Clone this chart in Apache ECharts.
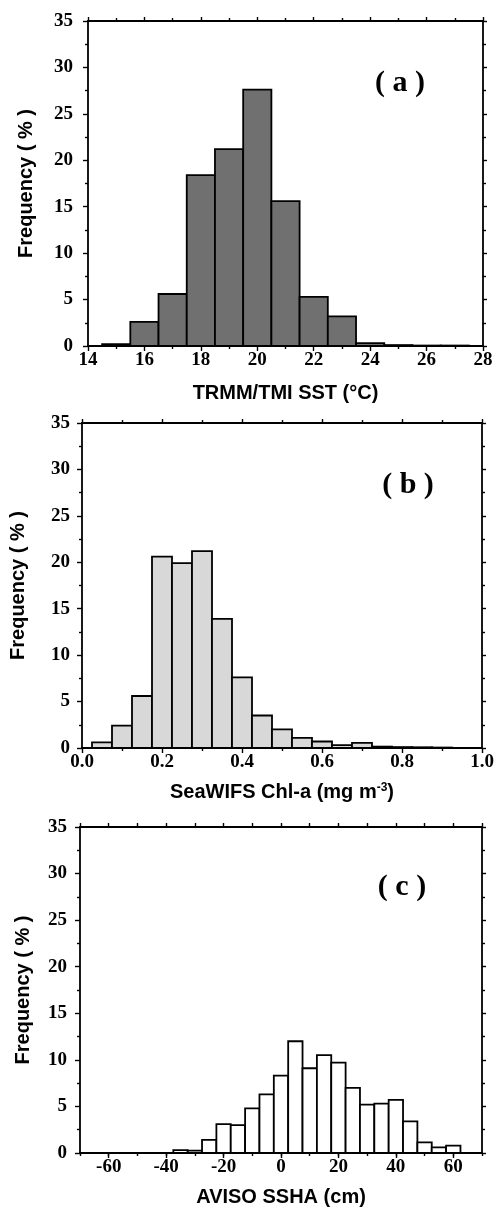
<!DOCTYPE html>
<html><head><meta charset="utf-8">
<script src="https://cdn.jsdelivr.net/npm/echarts@6/dist/echarts.min.js"></script>
<style>html,body{margin:0;padding:0;background:#fff}#c{width:494px;height:1219px}</style>
</head><body><div id="c"></div>
<script>
// ---- Data ----
const sstCenters = [15,16,17,18,19,20,21,22,23,24,25,26,27];
const sstFreq    = [0.2,2.6,5.6,18.4,21.2,27.6,15.6,5.3,3.2,0.3,0.1,0.05,0.05];
const sstBinWidth = 1;
const sstTicks = [14,16,18,20,22,24,26,28];

const chlCenters = [0.05,0.10,0.15,0.20,0.25,0.30,0.35,0.40,0.45,0.50,0.55,0.60,0.65,0.70,0.75,0.80,0.85,0.90];
const chlFreq    = [0.6,2.4,5.6,20.6,19.9,21.2,13.9,7.6,3.5,2.0,1.1,0.7,0.3,0.55,0.15,0.1,0.08,0.05];
const chlBinWidth = 0.05;
const chlTicks = [0.0,0.2,0.4,0.6,0.8,1.0];

const sshaCenters = [-35,-30,-25,-20,-15,-10,-5,0,5,10,15,20,25,30,35,40,45,50,55,60];
const sshaFreq    = [0.3,0.25,1.4,3.1,3.0,4.8,6.3,8.3,12.0,9.1,10.5,9.7,7.0,5.2,5.3,5.7,3.4,1.15,0.6,0.8];
const sshaBinWidth = 5;
const sshaTicks = [-60,-40,-20,0,20,40,60];
const sshaRange = [-70,70];

const freqTicks = [0,5,10,15,20,25,30,35];

const panelLabels = ['( a )','( b )','( c )'];
const xTitles = ['TRMM/TMI SST (°C)', 'SeaWIFS Chl-a (mg m{sup|-3})', 'AVISO SSHA (cm)'];
const yTitle = 'Frequency ( % )';

// ---- Styles ----
const SERIF = '"Liberation Serif","DejaVu Serif",serif';
const SANS = '"Liberation Sans",Arial,sans-serif';
const LINE = {color:'#000', width:1.8};
const TICK = {color:'#000', width:1.4};
const labelStyle = {color:'#000', fontFamily:SERIF, fontSize:19, fontWeight:'bold'};
const nameStyle = {color:'#000', fontFamily:SANS, fontSize:20, fontWeight:'bold',
  rich:{sup:{fontFamily:SANS, fontSize:12, fontWeight:'bold', color:'#000', verticalAlign:'top', padding:[0,0,9,0]}}};

const grids = [
  {left:88, right:11, top:21, height:325},
  {left:82, right:12, top:423, height:325},
  {left:80, right:12, top:827, height:326}
];

function xMain(g, ticks, name, gap, fmt) {
  return {gridIndex:g, type:'value', position:'bottom', min:ticks[0], max:ticks[ticks.length-1],
    interval:ticks[1]-ticks[0],
    axisLine:{onZero:false, lineStyle:LINE},
    axisTick:{show:true, inside:false, length:5, lineStyle:TICK},
    minorTick:{show:true, splitNumber:2, length:3, lineStyle:TICK},
    axisLabel:Object.assign({margin:5, formatter:fmt}, labelStyle),
    splitLine:{show:false}, minorSplitLine:{show:false},
    name:name, nameLocation:'middle', nameGap:gap, nameTextStyle:nameStyle};
}
function xTop(g, ticks) {
  return {gridIndex:g, type:'value', position:'top', min:ticks[0], max:ticks[ticks.length-1],
    interval:ticks[1]-ticks[0],
    axisLine:{onZero:false, lineStyle:LINE},
    axisTick:{show:true, inside:false, length:4, lineStyle:TICK},
    minorTick:{show:true, splitNumber:2, length:3, lineStyle:TICK},
    axisLabel:{show:false}, splitLine:{show:false}};
}
function yLeft(g, gap, margin) {
  return {gridIndex:g, type:'value', position:'left', min:freqTicks[0], max:freqTicks[freqTicks.length-1],
    interval:freqTicks[1]-freqTicks[0],
    axisLine:{onZero:false, lineStyle:LINE},
    axisTick:{show:true, inside:false, length:5, lineStyle:TICK},
    minorTick:{show:true, splitNumber:2, length:3, lineStyle:TICK},
    axisLabel:Object.assign({margin:margin}, labelStyle),
    splitLine:{show:false}, minorSplitLine:{show:false},
    name:yTitle, nameLocation:'middle', nameGap:gap, nameTextStyle:nameStyle};
}
function yRight(g) {
  return {gridIndex:g, type:'value', position:'right', min:freqTicks[0], max:freqTicks[freqTicks.length-1],
    interval:freqTicks[1]-freqTicks[0],
    axisLine:{onZero:false, lineStyle:LINE},
    axisTick:{show:true, inside:false, length:4, lineStyle:TICK},
    minorTick:{show:true, splitNumber:2, length:3, lineStyle:TICK},
    axisLabel:{show:false}, splitLine:{show:false}};
}

function histSeries(xi, yi, centers, freqs, width, fill) {
  return {type:'custom', xAxisIndex:xi, yAxisIndex:yi, silent:true, z:3,
    data: centers.map((c,i)=>[c, freqs[i]]),
    renderItem: function(params, api) {
      const c = api.value(0), v = api.value(1);
      const p0 = api.coord([c - width/2, v]);
      const p1 = api.coord([c + width/2, 0]);
      return {type:'rect', shape:{x:p0[0], y:p0[1], width:p1[0]-p0[0], height:p1[1]-p0[1]},
        style:{fill:fill, stroke:'#000', lineWidth:1.8}};
    }};
}

const sshaAxisMain = {gridIndex:2, type:'value', position:'bottom', min:sshaRange[0], max:sshaRange[1],
  axisLine:{onZero:false, lineStyle:LINE},
  axisTick:{show:true, inside:false, length:5, lineStyle:TICK, customValues:sshaTicks},
  axisLabel:Object.assign({margin:5, customValues:sshaTicks}, labelStyle),
  splitLine:{show:false},
  name:xTitles[2], nameLocation:'middle', nameGap:34, nameTextStyle:nameStyle};
const sshaAxisTop = {gridIndex:2, type:'value', position:'top', min:sshaRange[0], max:sshaRange[1], interval:10,
  axisLine:{onZero:false, lineStyle:LINE},
  axisTick:{show:true, inside:false, length:4, lineStyle:TICK},
  axisLabel:{show:false}, splitLine:{show:false}};
const sshaAxisMinor = {gridIndex:2, type:'value', position:'bottom', min:sshaRange[0], max:sshaRange[1], interval:10,
  axisLine:{show:false, onZero:false},
  axisTick:{show:true, inside:false, length:3, lineStyle:TICK},
  axisLabel:{show:false}, splitLine:{show:false}};

const labelFont = 'bold 30px ' + SERIF;
const option = {
  animation:false,
  backgroundColor:'#fff',
  grid: grids.map(g => Object.assign({outerBoundsMode:'none', containLabel:false}, g)),
  xAxis: [
    xMain(0, sstTicks, xTitles[0], 37, v => String(v)),
    xTop(0, sstTicks),
    xMain(1, chlTicks, xTitles[1], 34, v => v.toFixed(1)),
    xTop(1, chlTicks),
    sshaAxisMain,
    sshaAxisTop,
    sshaAxisMinor
  ],
  yAxis: [
    yLeft(0, 52, 15), yRight(0),
    yLeft(1, 54, 12), yRight(1),
    yLeft(2, 47, 13), yRight(2)
  ],
  graphic: [
    {type:'text', x:400, y:83, style:{text:panelLabels[0], font:labelFont, fill:'#000', textAlign:'center', textVerticalAlign:'middle'}},
    {type:'text', x:408, y:485, style:{text:panelLabels[1], font:labelFont, fill:'#000', textAlign:'center', textVerticalAlign:'middle'}},
    {type:'text', x:402, y:887, style:{text:panelLabels[2], font:labelFont, fill:'#000', textAlign:'center', textVerticalAlign:'middle'}}
  ],
  series: [
    histSeries(0, 0, sstCenters, sstFreq, sstBinWidth, '#707070'),
    histSeries(2, 2, chlCenters, chlFreq, chlBinWidth, '#d8d8d8'),
    histSeries(4, 4, sshaCenters, sshaFreq, sshaBinWidth, '#ffffff')
  ]
};
const chart = echarts.init(document.getElementById('c'), null, {renderer:'canvas'});
chart.setOption(option);
</script>
</body></html>
